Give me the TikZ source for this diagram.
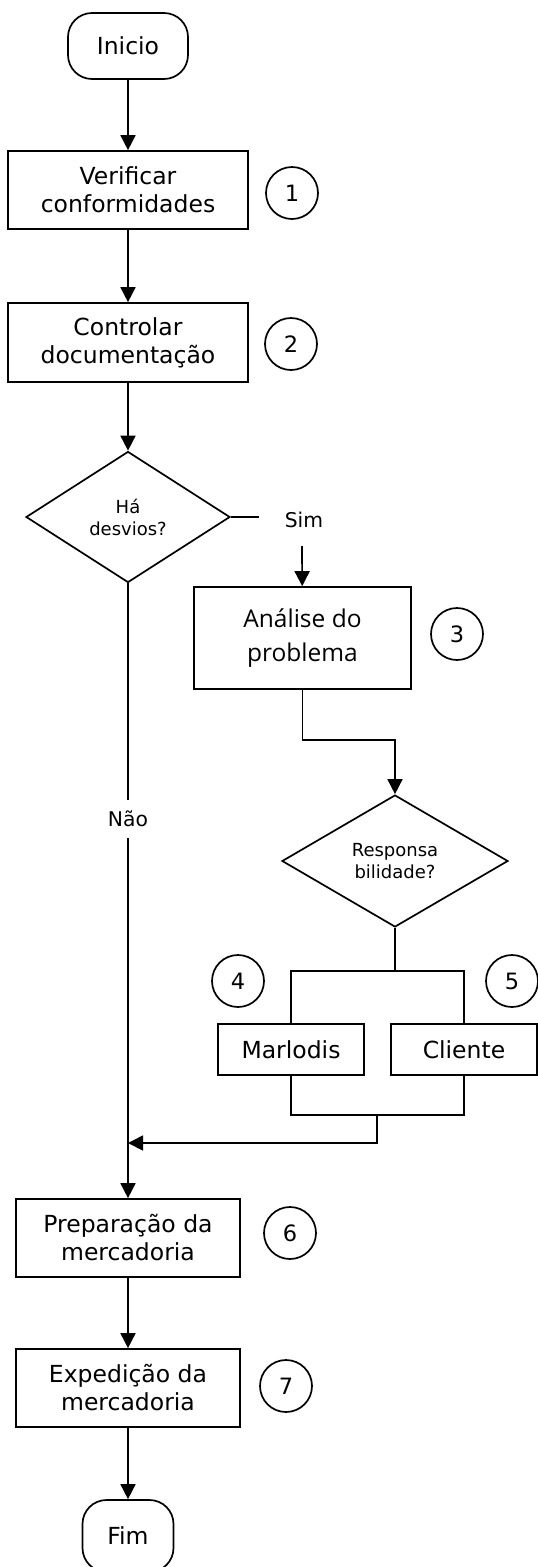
\documentclass[tikz,border=0pt]{standalone}
\usepackage{fontspec}
\setmainfont{DejaVu Sans}
\newfontfamily\opensans{Open Sans}
\usetikzlibrary{shapes.geometric,arrows.meta}

\tikzset{
    caixa/.style={draw, rectangle, minimum width=240pt, minimum height=78pt, inner sep=0pt, align=center, font=\fontsize{23.5}{28}\selectfont},
    terminal/.style={draw, rectangle, rounded corners=24pt, minimum width=120pt, minimum height=66pt, inner sep=0pt, font=\fontsize{23.5}{28}\selectfont},
    decisao/.style={draw, diamond, inner sep=0pt, align=center, font=\fontsize{18}{22}\selectfont},
    passo/.style={draw, circle, minimum size=52pt, inner sep=0pt, font=\fontsize{22.5}{26}\selectfont},
    rotulo/.style={inner sep=2pt, font=\fontsize{20.3}{24}\selectfont}
}

\begin{document}
\begin{tikzpicture}[x=1pt, y=-1pt, line width=1.7pt, >={Triangle[length=15pt,width=15pt]}]
                \useasboundingbox (0,0) rectangle (538,1567);

                \node[terminal] (inicio) at (128,46) {Inicio};
                \node[caixa] (verif) at (128,190) {Verificar\\conformidades};
                \node[passo] (n1) at (292,193) {1};
                \node[caixa, minimum height=79pt] (contr) at (128,342.5) {Controlar\\documentação};
                \node[passo] (n2) at (291,344) {2};
                \node[decisao, minimum width=204pt, minimum height=131pt] (desvios) at (128,517) {Há\\desvios?};
                \coordinate (simfim) at (259,517);
                \node[rotulo] (sim) at (304,520) {Sim};
                \coordinate (simtopo) at (302,546);
                \node[caixa, minimum width=217pt, minimum height=102pt, font=\opensans\fontsize{24.5}{34}\selectfont] (analise) at (302.5,638) {Análise do\\problema};
                \node[passo] (n3) at (457,634) {3};
                \node[decisao, minimum width=226pt, minimum height=132pt] (resp) at (395,861) {Responsa\\bilidade?};
                \coordinate (divide) at (395,971);
                \node[passo] (n4) at (238,981) {4};
                \node[passo] (n5) at (512,981) {5};
                \node[caixa, minimum width=146pt, minimum height=51pt] (marlodis) at (291,1049.5) {Marlodis};
                \node[caixa, minimum width=146pt, minimum height=51pt] (cliente) at (464,1049.5) {Cliente};
                \coordinate (junta) at (377,1115);
                \coordinate (entra) at (128,1143);
                \node[caixa, minimum width=224pt] (prep) at (128,1238) {Preparação da\\mercadoria};
                \node[passo] (n6) at (290,1233) {6};
                \node[caixa, minimum width=224pt] (exped) at (128,1388) {Expedição da\\mercadoria};
                \node[passo] (n7) at (286,1386) {7};
                \node[terminal, minimum width=91pt, minimum height=72pt] (fim) at (128,1536) {Fim};

                \draw[->] (inicio) -- (verif); \draw[->] (verif) -- (contr); \draw[->] (contr) -- (desvios);
                \draw (desvios.east) -- (simfim); \draw[->] (simtopo) -- (analise);
                \draw[->] (analise.south) -- ++(0,50) -| (resp.north);
                \draw (resp.south) -- (divide); \draw (marlodis.north) |- (divide) -| (cliente.north);
                \draw (marlodis.south) |- (junta) -| (cliente.south); \draw[->] (junta) |- (entra);
                \draw[->] (desvios) -- node[rotulo, pos=0.383, fill=white, inner ysep=11pt] {Não} (prep);
                \draw[->] (prep) -- (exped); \draw[->] (exped) -- (fim);
            \end{tikzpicture}
\end{document}
